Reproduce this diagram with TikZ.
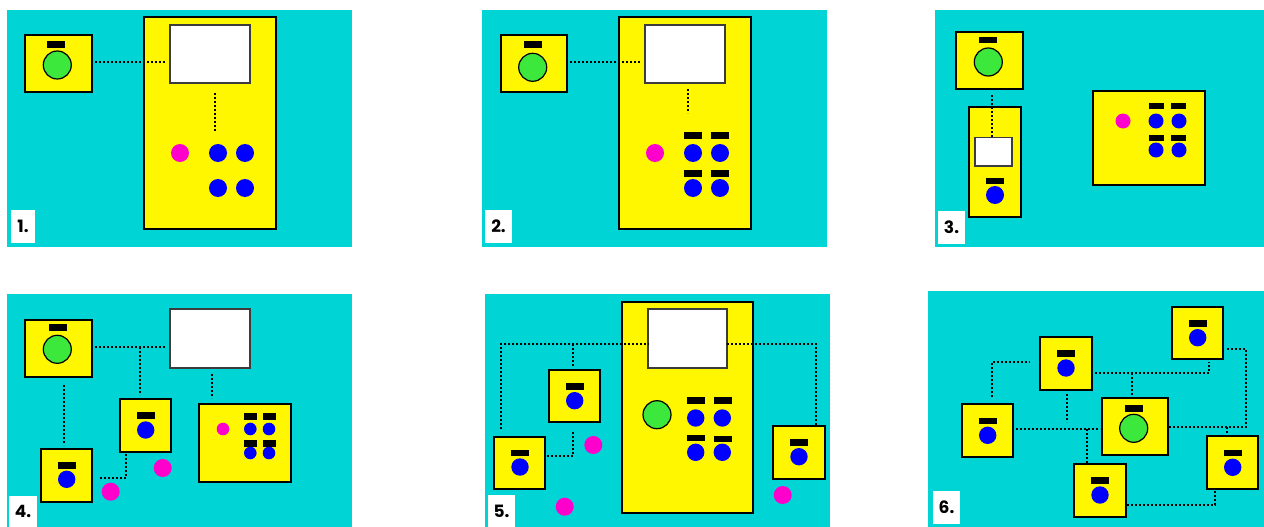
\documentclass[tikz,border=0pt]{standalone}
\usepackage{fontspec}
\setmainfont{Poppins}
\definecolor{cyanbg}{RGB}{0,212,212}
\definecolor{yel}{RGB}{255,247,0}
\definecolor{grn}{RGB}{59,232,59}
\definecolor{blu}{RGB}{0,0,255}
\definecolor{pnk}{RGB}{255,0,204}
\definecolor{scr}{RGB}{60,60,60}
\tikzset{
  panel/.style={fill=cyanbg, draw=none, inner sep=0, outer sep=0},
  ybox/.style={fill=yel, draw=black, line width=1.3, inner sep=0, outer sep=0},
  wbox/.style={fill=white, draw=scr, line width=1.3, inner sep=0, outer sep=0},
  lbl/.style={fill=white, draw=none, inner sep=0, outer sep=0},
  lbltext/.style={font=\fontsize{17}{17}\selectfont\bfseries, inner sep=0},
  dotline/.style={line width=2.3, dash pattern=on 2 off 2, draw=black},
}
% name, style, x1, y1, x2, y2
\newcommand\rbox[6]{\node[#2, minimum width={#5-#3}, minimum height={#6-#4}] (#1) at ({(#3+#5)/2},{(#4+#6)/2}) {};}
% name, colour, x, y, r
\newcommand\cnode[5]{\node[circle, fill=#2, draw=none, inner sep=0, outer sep=0, minimum size={2*#5}] (#1) at (#3,#4) {};}
% name, x, y, r  (green with outline)
\newcommand\gnode[4]{\node[circle, fill=grn, draw=black, line width=1.2, inner sep=0, outer sep=0, minimum size={2*#4}] (#1) at (#2,#3) {};}
% name, x, y, w, h
\newcommand\bnode[5]{\node[rectangle, fill=black, draw=none, inner sep=0, outer sep=0, minimum width=#4, minimum height=#5] (#1) at (#2,#3) {};}
\begin{document}
\begin{tikzpicture}[x=1pt,y=-1pt]
\useasboundingbox (0,0) rectangle (1264,527);
\fill[white] (0,0) rectangle (1264,527);
% ---------------- panels
\rbox{p1}{panel}{7}{10}{352}{247}
\rbox{p2}{panel}{482}{10}{827}{247}
\rbox{p3}{panel}{935}{10}{1264}{247}
\rbox{p4}{panel}{7}{294}{352}{527}
\rbox{p5}{panel}{485}{294}{830}{527}
\rbox{p6}{panel}{928}{291}{1264}{527}
% ---------------- panel 1
\rbox{a1}{ybox}{25}{35}{92}{92}
\bnode{a1b}{56}{44.5}{18}{6.5}
\gnode{a1c}{57.3}{65}{14}
\rbox{y1}{ybox}{144}{17}{276}{229}
\rbox{w1}{wbox}{170}{25}{250}{83}
\cnode{y1p}{pnk}{180}{153}{9}
\cnode{y1a}{blu}{218}{153}{9}
\cnode{y1b}{blu}{245}{153}{9}
\cnode{y1c}{blu}{218}{188}{9}
\cnode{y1d}{blu}{245}{188}{9}
\coordinate (d1a) at (95,62);
\coordinate (d1b) at (165,62);
\coordinate (d1c) at (215,93);
\coordinate (d1d) at (215,131);
\draw[dotline] (d1a) -- (d1b);
\draw[dotline] (d1c) -- (d1d);
\rbox{l1}{lbl}{11}{210}{35}{243}
\node[lbltext] (t1) at (l1) {1.};
% ---------------- panel 2
\rbox{a2}{ybox}{501}{35}{567}{92}
\bnode{a2b}{532.5}{44.5}{18}{6.5}
\gnode{a2c}{532.7}{67.3}{14}
\rbox{y2}{ybox}{619}{17}{751}{229}
\rbox{w2}{wbox}{645}{25}{725}{83}
\cnode{y2p}{pnk}{655}{153}{9}
\cnode{y2a}{blu}{693}{153}{9}
\cnode{y2b}{blu}{720}{153}{9}
\cnode{y2c}{blu}{693}{188}{9}
\cnode{y2d}{blu}{720}{188}{9}
\bnode{y2ab}{693.3}{135.7}{18}{6.7}
\bnode{y2bb}{720}{135.7}{18}{6.7}
\bnode{y2cb}{693.3}{173.3}{18}{6.7}
\bnode{y2db}{720}{173.8}{18}{6.7}
\coordinate (d2a) at (570,62);
\coordinate (d2b) at (640,62);
\coordinate (d2c) at (688,89);
\coordinate (d2d) at (688,113);
\draw[dotline] (d2a) -- (d2b);
\draw[dotline] (d2c) -- (d2d);
\rbox{l2}{lbl}{485}{210}{512}{243}
\node[lbltext] (t2) at (l2) {2.};
% ---------------- panel 3
\rbox{a3}{ybox}{956}{32}{1023}{89}
\bnode{a3b}{988.3}{40.2}{18}{6.3}
\gnode{a3c}{988.3}{62}{14}
\rbox{t3}{ybox}{969}{107}{1021}{217}
\rbox{w3}{wbox}{975}{137.5}{1012}{166}
\bnode{t3b}{995}{181}{18}{6.3}
\cnode{t3c}{blu}{995}{195}{9}
\coordinate (d3a) at (992,95);
\coordinate (d3b) at (992,137);
\draw[dotline] (d3a) -- (d3b);
\rbox{r3}{ybox}{1093}{91}{1205}{185}
\cnode{r3p}{pnk}{1123}{121}{7.5}
\cnode{r3a}{blu}{1156}{121}{7.5}
\cnode{r3b}{blu}{1179}{121}{7.5}
\cnode{r3c}{blu}{1156}{150}{7.5}
\cnode{r3d}{blu}{1179}{150}{7.5}
\bnode{r3ab}{1156}{106.2}{15}{6.3}
\bnode{r3bb}{1178.8}{106.2}{15}{6.3}
\bnode{r3cb}{1156}{138}{15}{6.3}
\bnode{r3db}{1178.8}{138}{15}{6.3}
\rbox{l3}{lbl}{938}{211}{965}{244}
\node[lbltext] (tt3) at (l3) {3.};
% ---------------- panel 4
\rbox{a4}{ybox}{25}{320}{92}{377}
\bnode{a4b}{57.5}{327.5}{18}{6.3}
\gnode{a4c}{57.3}{349.3}{14}
\rbox{w4}{wbox}{170}{309}{250}{368}
\rbox{m4}{ybox}{120}{399}{171}{452}
\bnode{m4b}{145.5}{415.7}{18}{6.7}
\cnode{m4c}{blu}{145.7}{430}{8.7}
\rbox{b4}{ybox}{41}{449}{92}{502}
\bnode{b4b}{66.5}{465.3}{18}{6.7}
\cnode{b4c}{blu}{66.7}{479.3}{8.7}
\rbox{r4}{ybox}{199}{404}{291}{482}
\cnode{r4p}{pnk}{223}{429}{6.3}
\cnode{r4a}{blu}{250.3}{429}{6.3}
\cnode{r4b}{blu}{269}{429}{6.3}
\cnode{r4c}{blu}{250.3}{453}{6.3}
\cnode{r4d}{blu}{269}{453}{6.3}
\bnode{r4ab}{250.3}{416.5}{12.7}{6.3}
\bnode{r4bb}{269.3}{416.5}{12.7}{6.3}
\bnode{r4cb}{250.3}{443.5}{12.7}{6.3}
\bnode{r4db}{269.3}{443.5}{12.7}{6.3}
\cnode{q4a}{pnk}{110.7}{491.7}{9}
\cnode{q4b}{pnk}{162.7}{468}{9}
\coordinate (d4a) at (95,347);
\coordinate (d4b) at (165,347);
\coordinate (d4c) at (140,347);
\coordinate (d4d) at (140,395);
\coordinate (d4e) at (212,374);
\coordinate (d4f) at (212,398);
\coordinate (d4g) at (64,385);
\coordinate (d4h) at (64,445);
\coordinate (d4i) at (100,478);
\coordinate (d4j) at (126,454);
\draw[dotline] (d4a) -- (d4b);
\draw[dotline] (d4c) -- (d4d);
\draw[dotline] (d4e) -- (d4f);
\draw[dotline] (d4g) -- (d4h);
\draw[dotline] (d4i) -| (d4j);
\rbox{l4}{lbl}{9}{496}{37}{527}
\node[lbltext] (t4) at (l4) {4.};
% ---------------- panel 5
\coordinate (d5a) at (501,429);
\coordinate (d5b) at (649,344);
\coordinate (d5c) at (573,344);
\coordinate (d5d) at (573,366);
\coordinate (d5e) at (727,344);
\coordinate (d5f) at (816,426);
\coordinate (d5g) at (547,456);
\coordinate (d5h) at (573,432);
\rbox{y5}{ybox}{622}{302}{753}{513}
\rbox{w5}{wbox}{648}{309}{727}{368}
\draw[dotline] (d5a) |- (d5b);
\draw[dotline] (d5c) -- (d5d);
\draw[dotline] (d5e) -| (d5f);
\draw[dotline] (d5g) -| (d5h);
\rbox{a5}{ybox}{549}{370}{600}{422}
\bnode{a5b}{574.8}{386.5}{18}{6.3}
\cnode{a5c}{blu}{574.7}{400.7}{8.7}
\rbox{b5}{ybox}{494}{437}{545}{489}
\bnode{b5b}{520}{453.2}{18}{6.3}
\cnode{b5c}{blu}{520}{467}{8.7}
\rbox{c5}{ybox}{773}{426}{825}{479}
\bnode{c5b}{799}{442.5}{18}{6.3}
\cnode{c5c}{blu}{799}{456.7}{8.7}
\gnode{y5g}{657}{414.7}{14}
\cnode{y5a}{blu}{695.7}{418}{8.7}
\cnode{y5b}{blu}{722.3}{418}{8.7}
\cnode{y5c}{blu}{695.7}{452.3}{8.7}
\cnode{y5d}{blu}{722.3}{452.3}{8.7}
\bnode{y5ab}{695.8}{400.5}{18}{6.3}
\bnode{y5bb}{722.5}{400.5}{18}{6.3}
\bnode{y5cb}{695.8}{438.2}{18}{6.3}
\bnode{y5db}{722.5}{438.8}{18}{6.3}
\cnode{q5a}{pnk}{593.3}{445}{9}
\cnode{q5b}{pnk}{564.7}{506.7}{9}
\cnode{q5c}{pnk}{782.7}{495}{9}
\rbox{l5}{lbl}{488}{495}{515}{527}
\node[lbltext] (t5) at (l5) {5.};
% ---------------- panel 6
\coordinate (d6a) at (992,397);
\coordinate (d6b) at (1030,362);
\coordinate (d6c) at (1095,373);
\coordinate (d6d) at (1209,362);
\coordinate (d6e) at (1132,373);
\coordinate (d6f) at (1132,397);
\coordinate (d6g) at (1067,394);
\coordinate (d6h) at (1067,422);
\coordinate (d6i) at (1016,429);
\coordinate (d6j) at (1100,429);
\coordinate (d6k) at (1087,429);
\coordinate (d6l) at (1087,463);
\coordinate (d6m) at (1169,427);
\coordinate (d6n) at (1246,349);
\coordinate (d6o) at (1226,349);
\coordinate (d6p) at (1227,427);
\coordinate (d6q) at (1227,435);
\coordinate (d6r) at (1127,505);
\coordinate (d6s) at (1215,491);
\draw[dotline] (d6a) |- (d6b);
\draw[dotline] (d6c) -| (d6d);
\draw[dotline] (d6e) -- (d6f);
\draw[dotline] (d6g) -- (d6h);
\draw[dotline] (d6i) -- (d6j);
\draw[dotline] (d6k) -- (d6l);
\draw[dotline] (d6m) -| (d6n) -- (d6o);
\draw[dotline] (d6p) -- (d6q);
\draw[dotline] (d6r) -| (d6s);
\rbox{tr6}{ybox}{1172}{307}{1223}{359}
\bnode{tr6b}{1197.5}{323.3}{18}{6.7}
\cnode{tr6c}{blu}{1197.7}{337.7}{8.7}
\rbox{um6}{ybox}{1040}{337}{1092}{390}
\bnode{um6b}{1066}{353.7}{18}{6.7}
\cnode{um6c}{blu}{1066}{368}{8.7}
\rbox{lf6}{ybox}{962}{404}{1013}{457}
\bnode{lf6b}{988}{421}{18}{6.7}
\cnode{lf6c}{blu}{987.7}{435.3}{8.7}
\rbox{g6}{ybox}{1102}{398}{1168}{455}
\bnode{g6b}{1134}{408.7}{18}{6.7}
\gnode{g6c}{1133.7}{428.3}{14}
\rbox{bm6}{ybox}{1074}{464}{1126}{517}
\bnode{bm6b}{1100}{480.7}{18}{6.7}
\cnode{bm6c}{blu}{1100}{495}{8.7}
\rbox{rt6}{ybox}{1207}{436}{1258}{489}
\bnode{rt6b}{1232.7}{453}{18}{6.7}
\cnode{rt6c}{blu}{1232.7}{467.3}{8.7}
\rbox{l6}{lbl}{933}{491}{960}{524}
\node[lbltext] (t6) at (l6) {6.};
\end{tikzpicture}
\end{document}
